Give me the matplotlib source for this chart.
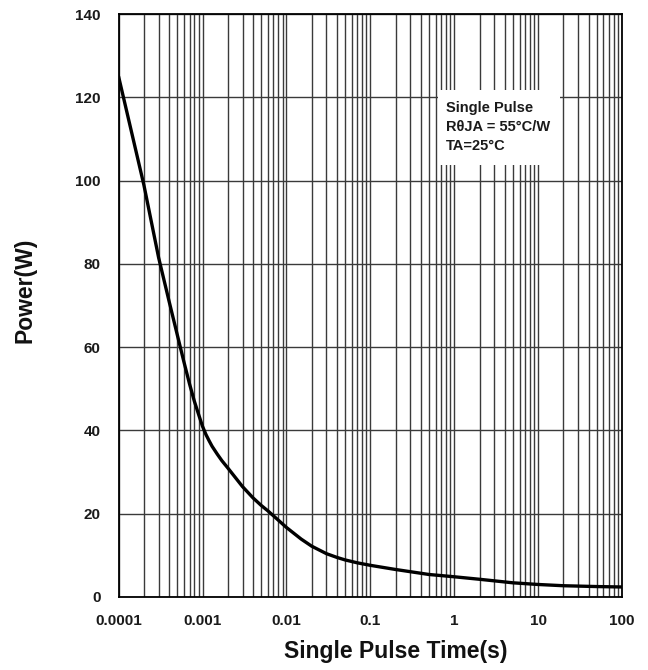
import numpy as np
import matplotlib.pyplot as plt
from matplotlib.ticker import LogLocator, FixedLocator
from matplotlib.patches import Rectangle

# single pulse power curve (time in s, power in W)
pulse_time = [0.0001, 0.0002, 0.0003, 0.0004, 0.0005, 0.0006, 0.0007, 0.0008,
              0.0009, 0.001, 0.0011, 0.0012, 0.0013, 0.0015, 0.0017, 0.002,
              0.003, 0.004, 0.005, 0.006, 0.007, 0.01, 0.015, 0.02, 0.03,
              0.04, 0.05, 0.07, 0.1, 0.2, 0.5, 1, 2, 5, 10, 20, 50, 100]
power = [125, 99, 81.5, 71, 63, 56.5, 51.2, 47.0,
         43.8, 41.0, 39.0, 37.5, 36.2, 34.3, 32.75, 31.0,
         26.5, 23.8, 22.0, 20.7, 19.5, 16.7, 13.9, 12.2, 10.4,
         9.5, 8.9, 8.2, 7.6, 6.6, 5.4, 4.85, 4.25, 3.4, 3.0, 2.7, 2.5, 2.4]

x_ticks = [0.0001, 0.001, 0.01, 0.1, 1, 10, 100]
x_tick_labels = ["0.0001", "0.001", "0.01", "0.1", "1", "10", "100"]
y_ticks = [0, 20, 40, 60, 80, 100, 120, 140]

note_lines = ["Single Pulse", "R\u03b8JA = 55\u00b0C/W", "TA=25\u00b0C"]

plt.rcParams['font.family'] = ['Liberation Sans', 'DejaVu Sans']

fig = plt.figure(figsize=(6.48, 6.70), dpi=100)
ax = fig.add_axes([0.183, 0.109, 0.777, 0.870])

ax.set_xscale('log')
ax.set_xlim(0.0001, 100)
ax.set_ylim(0, 140)

# grid on every decade sub-division
ax.xaxis.set_major_locator(FixedLocator(x_ticks))
ax.xaxis.set_minor_locator(LogLocator(base=10, subs=np.arange(2, 10)))
ax.set_xticks(x_ticks)
ax.set_xticklabels(x_tick_labels)
ax.set_yticks(y_ticks)
ax.grid(True, which='both', axis='x', color='#3a3a3a', linewidth=1.0)
ax.grid(True, which='major', axis='y', color='#3a3a3a', linewidth=1.0)
ax.tick_params(which='both', length=0)
ax.tick_params(axis='y', pad=13)
ax.tick_params(axis='x', pad=12)
ax.xaxis.set_minor_formatter(plt.NullFormatter())

for lbl in ax.get_xticklabels() + ax.get_yticklabels():
    lbl.set_fontweight('bold')
    lbl.set_fontsize(11)
    lbl.set_color('#1a1a1a')

for sp in ax.spines.values():
    sp.set_linewidth(1.3)
    sp.set_color('black')

ax.plot(pulse_time, power, color='black', linewidth=2.4, zorder=3,
        solid_joinstyle='round', solid_capstyle='round')

# note box over the grid
ax.add_patch(Rectangle((0.635, 0.741), 0.242, 0.129, transform=ax.transAxes,
                       facecolor='white', edgecolor='none', zorder=2.5))
ax.text(0.650, 0.851, "\n".join(note_lines), transform=ax.transAxes,
        ha='left', va='top', fontsize=10.5, fontweight='bold',
        linespacing=1.45, color='#1a1a1a', zorder=4)

fig.text(0.61, 0.027, "Single Pulse Time(s)", ha='center', va='center',
         fontsize=16.5, fontweight='bold', color='#111111')
fig.text(0.039, 0.567, "Power(W)", ha='center', va='center', rotation=90,
         fontsize=16.5, fontweight='bold', color='#111111')

fig.savefig("out.png", dpi=100)
